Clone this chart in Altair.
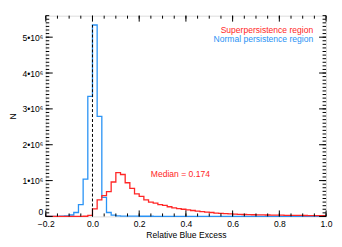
import altair as alt
import pandas as pd
import numpy as np

# bin left edges (width 0.02) from -0.20 to 0.98
bin_left = [round(-0.20 + 0.02 * i, 2) for i in range(60)]
bin_right_end = 1.0

# counts in units of 1e6
normal_m = [0.002, 0.003, 0.004, 0.006, 0.012, 0.04, 0.11, 0.33, 1.04, 3.35,
            5.34, 2.79, 0.53, 0.11, 0.035, 0.015, 0.010, 0.008, 0.007, 0.006,
            0.005, 0.005, 0.005, 0.004, 0.004, 0.004, 0.004, 0.003, 0.003, 0.003,
            0.003, 0.003, 0.003, 0.002, 0.002, 0.002, 0.002, 0.002, 0.002, 0.002,
            0.002, 0.002, 0.002, 0.002, 0.002, 0.001, 0.001, 0.001, 0.001, 0.001,
            0.001, 0.001, 0.001, 0.001, 0.001, 0.001, 0.001, 0.001, 0.001, 0.001]
super_m = [0.0, 0.0, 0.0, 0.0, 0.0, 0.0, 0.001, 0.002, 0.005, 0.03,
           0.21, 0.46, 0.58, 0.69, 0.96, 1.22, 1.17, 0.94, 0.78, 0.63,
           0.56, 0.46, 0.40, 0.37, 0.33, 0.31, 0.27, 0.24, 0.22, 0.20,
           0.18, 0.165, 0.15, 0.135, 0.12, 0.11, 0.095, 0.085, 0.078, 0.07,
           0.064, 0.058, 0.054, 0.05, 0.047, 0.044, 0.042, 0.04, 0.038, 0.036,
           0.034, 0.032, 0.03, 0.029, 0.028, 0.026, 0.025, 0.024, 0.022, 0.021]

series_names = ["Superpersistence region", "Normal persistence region"]
series_colors = ["#ff2626", "#2a93f5"]

median_value = 0.174
median_label = "Median = 0.174"
median_text_pos = [0.25, 1.17e6]

x_major = [-0.2, 0.0, 0.2, 0.4, 0.6, 0.8, 1.0]
x_minor = [round(-0.2 + 0.05 * i, 2) for i in range(25)]
y_major = [0, 1e6, 2e6, 3e6, 4e6, 5e6]
y_minor = [i * 1e5 for i in range(57)]

W, H = 282, 202
FONT = "Liberation Sans"
FS = 8.6

rows = []
for name, vals in ((series_names[1], normal_m), (series_names[0], super_m)):
    for x, v in zip(bin_left, vals):
        rows.append({"x": x, "N": v * 1e6, "series": name})
    rows.append({"x": bin_right_end, "N": vals[-1] * 1e6, "series": name})
hist = pd.DataFrame(rows)

xscale = alt.Scale(domain=[-0.2, 1.0], nice=False, zero=False)
yscale = alt.Scale(domain=[0, 5.6e6], nice=False)

lines = alt.Chart(hist).mark_line(interpolate="step-after", strokeWidth=1.3).encode(
    x=alt.X("x:Q", scale=xscale,
            axis=alt.Axis(values=x_major, format=".1f", ticks=False, domain=False, grid=False,
                          labelPadding=3, labelFontSize=FS, labelFont=FONT, labelColor="black",
                          title="Relative Blue Excess", titleFontSize=FS, titleFont=FONT,
                          titleFontWeight="normal", titleColor="black", titleY=14,
                          labelFlush=False)),
    y=alt.Y("N:Q", scale=yscale,
            axis=alt.Axis(values=y_major, ticks=False, domain=False, grid=False,
                          labelExpr="datum.value == 0 ? '0' : format(datum.value/1e6, 'd') + '•10⁶'",
                          labelFlush=True,
                          labelPadding=3, labelFontSize=FS, labelFont=FONT, labelColor="black",
                          title="N", titleFontSize=FS, titleFont=FONT, titleFontWeight="normal",
                          titleColor="black", titleX=-28, titleY=H / 2)),
    color=alt.Color("series:N", scale=alt.Scale(domain=series_names, range=series_colors), legend=None),
    detail="series:N",
    order=alt.Order("x:Q"),
)

zero_df = pd.DataFrame({"x": [0.0], "y": [0.0], "y2": [max(normal_m) * 1e6]})
zero_line = alt.Chart(zero_df).mark_rule(color="black", strokeDash=[3, 2], strokeWidth=1).encode(
    x=alt.X("x:Q", scale=xscale), y=alt.Y("y:Q", scale=yscale), y2="y2:Q")

def xticks(vals, length, top):
    df = pd.DataFrame({"v": vals})
    if top:
        ys = dict(y=alt.value(0), y2=alt.value(length))
    else:
        ys = dict(y=alt.value(H), y2=alt.value(H - length))
    return alt.Chart(df).mark_rule(color="black", strokeWidth=1).encode(
        x=alt.X("v:Q", scale=xscale), **ys)

def yticks(vals, length, right):
    df = pd.DataFrame({"v": vals})
    if right:
        xs = dict(x=alt.value(W), x2=alt.value(W - length))
    else:
        xs = dict(x=alt.value(0), x2=alt.value(length))
    return alt.Chart(df).mark_rule(color="black", strokeWidth=1).encode(
        y=alt.Y("v:Q", scale=yscale), **xs)

ticks = [xticks(x_major, 6, False), xticks(x_minor, 3, False),
         xticks(x_major, 6, True), xticks(x_minor, 3, True),
         yticks(y_major, 7, False), yticks(y_minor, 3.5, False),
         yticks(y_major, 7, True), yticks(y_minor, 3.5, True)]

legend_texts = []
for i, (name, col) in enumerate(zip(series_names, series_colors)):
    legend_texts.append(
        alt.Chart(pd.DataFrame({"label": [name]})).mark_text(
            align="right", baseline="middle", font=FONT, fontSize=FS, color=col
        ).encode(x=alt.value(W - 13), y=alt.value(14.3 + 9.4 * i), text="label:N"))

med_df = pd.DataFrame({"x": [median_text_pos[0]], "y": [median_text_pos[1]], "t": [median_label]})
med_text = alt.Chart(med_df).mark_text(
    align="left", baseline="middle", font=FONT, fontSize=FS, color=series_colors[0]
).encode(x=alt.X("x:Q", scale=xscale), y=alt.Y("y:Q", scale=yscale), text="t:N")

chart = alt.layer(lines, zero_line, *ticks, *legend_texts, med_text).properties(
    width=W, height=H,
    autosize=alt.AutoSizeParams(type="none"),
    padding={"left": 38, "top": 7, "right": 8, "bottom": 22},
).configure_view(stroke="black", strokeWidth=1).configure(background="white")

chart.save("out.html", embed_options={"renderer": "svg", "actions": False})
